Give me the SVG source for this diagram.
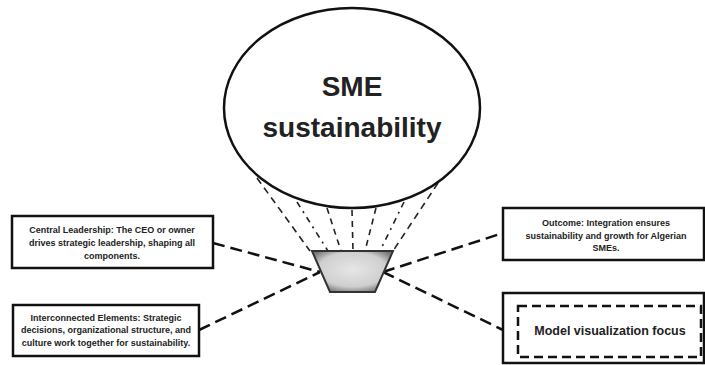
<svg xmlns="http://www.w3.org/2000/svg" width="705" height="365" viewBox="0 0 705 365">
<defs>
<style>
.box{fill:#fff;stroke:#111;stroke-width:2.5}
.conn{fill:none;stroke:#111;stroke-width:2.5;stroke-dasharray:12,6}
.ray{fill:none;stroke:#222;stroke-width:1.6}
.small{font-family:"Liberation Sans",Arial,sans-serif;font-weight:bold;font-size:9px;fill:#222;text-anchor:middle}
.big{font-family:"Liberation Sans",Arial,sans-serif;font-weight:bold;font-size:28px;fill:#222;text-anchor:middle}
</style>
<radialGradient id="bg" cx="0.5" cy="0.45" r="0.6">
<stop offset="0" stop-color="#e6e6e6"/>
<stop offset="0.7" stop-color="#cfcfcf"/>
<stop offset="1" stop-color="#777"/>
</radialGradient>
</defs>
<rect width="705" height="365" fill="#fff"/>
<g id="connectors">
<line class="conn" x1="213" y1="243" x2="320" y2="272"/>
<line class="conn" x1="199" y1="330" x2="320" y2="272"/>
<line class="conn" x1="383" y1="272" x2="503" y2="233"/>
<line class="conn" x1="383" y1="272" x2="503" y2="330"/>
<line class="ray" x1="257" y1="178" x2="310" y2="251" stroke-dasharray="7,5"/>
<line class="ray" x1="297" y1="202" x2="328" y2="251" stroke-dasharray="6,5,2,5"/>
<line class="ray" x1="327" y1="208" x2="341" y2="251" stroke-dasharray="6,5"/>
<line class="ray" x1="352" y1="210" x2="353" y2="251" stroke-dasharray="6,5"/>
<line class="ray" x1="376" y1="208" x2="365" y2="251" stroke-dasharray="6,5"/>
<line class="ray" x1="404" y1="202" x2="380" y2="251" stroke-dasharray="6,5,2,5"/>
<line class="ray" x1="438" y1="183" x2="393" y2="251" stroke-dasharray="7,5"/>
</g>
<g id="sme">
<ellipse cx="352" cy="108" rx="128" ry="100" fill="#fff" stroke="#111" stroke-width="2.5"/>
<text class="big" x="352" y="96">SME</text>
<text class="big" x="352" y="137">sustainability</text>
</g>
<g id="basket">
<polygon points="312,251 393,251 375,292 330,292" fill="url(#bg)" stroke="#333" stroke-width="2"/>
</g>
<g id="central-leadership">
<rect class="box" x="12" y="216" width="201" height="52"/>
<text class="small" x="112" y="233">Central Leadership: The CEO or owner</text>
<text class="small" x="112" y="246">drives strategic leadership, shaping all</text>
<text class="small" x="112" y="259">components.</text>
</g>
<g id="interconnected">
<rect class="box" x="13" y="305" width="186" height="51"/>
<text class="small" x="106" y="321">Interconnected Elements: Strategic</text>
<text class="small" x="106" y="333">decisions, organizational structure, and</text>
<text class="small" x="106" y="346">culture work together for sustainability.</text>
</g>
<g id="outcome">
<rect class="box" x="503" y="208" width="201" height="52"/>
<text class="small" x="606" y="226">Outcome: Integration ensures</text>
<text class="small" x="606" y="239">sustainability and growth for Algerian</text>
<text class="small" x="606" y="251">SMEs.</text>
</g>
<g id="model-focus">
<rect class="box" x="503" y="293" width="201" height="70"/>
<rect x="518" y="306" width="183" height="51" fill="none" stroke="#111" stroke-width="2.5" stroke-dasharray="9,5"/>
<text x="610" y="335" font-family="'Liberation Sans',Arial,sans-serif" font-weight="bold" font-size="12.5" fill="#222" text-anchor="middle">Model visualization focus</text>
</g>
</svg>
